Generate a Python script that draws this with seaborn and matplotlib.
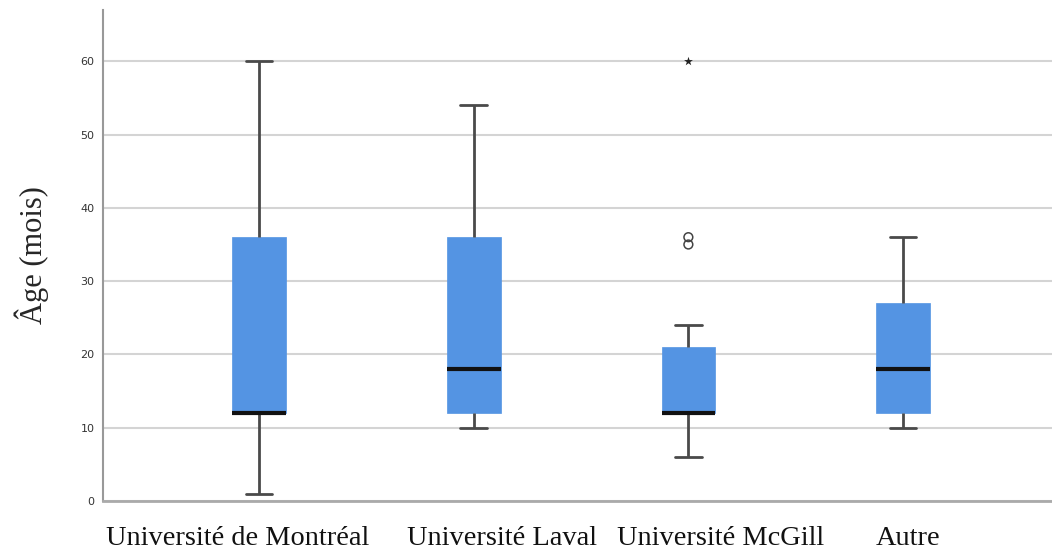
import numpy as np
import pandas as pd
import matplotlib
matplotlib.use("Agg")
import matplotlib.pyplot as plt
import matplotlib.transforms as mtransforms
import seaborn as sns

# ---- data ----
categories = ["Université de Montréal", "Université Laval", "Université McGill", "Autre"]
whisker_low = [1, 10, 6, 10]
q1 = [12, 12, 12, 12]
median = [12, 18, 12, 18]
q3 = [36, 36, 21, 27]
whisker_high = [60, 54, 24, 36]
outlier_cat = ["Université McGill", "Université McGill"]
outlier_val = [35, 36]
extreme_cat = ["Université McGill"]
extreme_val = [60]

# build per-group samples reproducing the five-number summaries
rows = []
for c, lo, a, m, b, hi in zip(categories, whisker_low, q1, median, q3, whisker_high):
    for v in [lo, a, a, m, b, b, hi]:
        rows.append({"group": c, "age": v})
df = pd.DataFrame(rows)
df_out = pd.DataFrame({"group": outlier_cat, "age": outlier_val})
df_ext = pd.DataFrame({"group": extreme_cat, "age": extreme_val})

sns.set_theme(style="white")
fig = plt.figure(figsize=(10.52, 5.54), dpi=100)
ax = fig.add_axes([103 / 1052, 53 / 554, 949 / 1052, 491 / 554])

box_color = "#5494E3"
sns.boxplot(
    data=df, x="group", y="age", order=categories, ax=ax,
    whis=(0, 100), showfliers=False, width=0.25, color=box_color,
    saturation=1,
    boxprops=dict(facecolor=box_color, edgecolor=box_color, linewidth=0.5),
    whiskerprops=dict(color="#4a4a4a", linewidth=2),
    capprops=dict(color="#4a4a4a", linewidth=2),
    medianprops=dict(color="#111111", linewidth=3),
)
sns.scatterplot(data=df_out, x="group", y="age", ax=ax, marker="o", s=40,
                facecolor="none", edgecolor="#444444", linewidth=1.1, zorder=5)
sns.scatterplot(data=df_ext, x="group", y="age", ax=ax, marker="*", s=45,
                color="#222222", linewidth=0, zorder=5)

ax.set_xlim(-0.727, 3.694)
ax.set_ylim(0, 67)
ax.set_yticks([0, 10, 20, 30, 40, 50, 60])
ax.yaxis.grid(True, color="#d4d4d4", linewidth=1.5)
ax.set_axisbelow(True)
for s in ["top", "right"]:
    ax.spines[s].set_visible(False)
ax.spines["left"].set_color("#999999")
ax.spines["left"].set_linewidth(1.5)
ax.spines["bottom"].set_color("#aaaaaa")
ax.spines["bottom"].set_linewidth(2)

ax.tick_params(axis="y", length=0, pad=6, labelsize=8, labelcolor="#333333")
ax.tick_params(axis="x", length=0, pad=18)
ax.set_xlabel("")
ax.set_ylabel("Âge (mois)", family="Liberation Serif", fontsize=22, labelpad=23)

# x tick labels in serif, shifted like the reference
offsets_px = [-21, 28, 32, 5]
for lab, dx in zip(ax.get_xticklabels(), offsets_px):
    lab.set_family("Liberation Serif")
    lab.set_fontsize(20.4)
    lab.set_color("#111111")
    lab.set_transform(lab.get_transform() + mtransforms.ScaledTranslation(dx / 100, 0, fig.dpi_scale_trans))

fig.savefig("out.png", dpi=100)
